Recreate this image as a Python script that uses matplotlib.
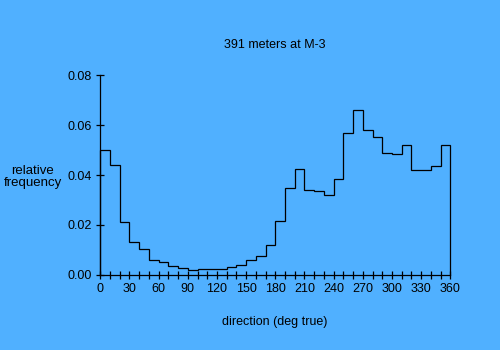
import numpy as np
import matplotlib.pyplot as plt

# relative frequency of current direction, 10 degree bins
bin_edges = np.arange(0, 370, 10)
rel_freq = [0.0500, 0.0439, 0.0211, 0.0131, 0.0103, 0.0059, 0.0052, 0.0035,
            0.0027, 0.0019, 0.0023, 0.0023, 0.0023, 0.0031, 0.0039, 0.0059,
            0.0075, 0.0119, 0.0215, 0.0347, 0.0423, 0.0339, 0.0335, 0.0319,
            0.0383, 0.0567, 0.0659, 0.0579, 0.0551, 0.0487, 0.0483, 0.0519,
            0.0419, 0.0419, 0.0435, 0.0519]

bg = '#50b0ff'
plt.rcParams['font.family'] = 'Liberation Sans'
plt.rcParams['font.size'] = 9

fig = plt.figure(figsize=(5, 3.5), dpi=100, facecolor=bg)
ax = fig.add_axes([0.2006, 0.2143, 0.70, 0.5714], facecolor=bg)

ax.stairs(rel_freq, bin_edges, color='black', linewidth=0.9, baseline=0,
          clip_on=False)

ax.set_xlim(0, 360)
ax.set_ylim(0, 0.08)
ax.set_xticks(np.arange(0, 361, 30))
ax.set_xticks(np.arange(0, 361, 10), minor=True)
ax.set_yticks(np.arange(0, 0.081, 0.02))
ax.yaxis.set_major_formatter(plt.FormatStrFormatter('%.2f'))
ax.tick_params(which='both', direction='inout', length=6, width=0.9, pad=3)

for side in ['top', 'right']:
    ax.spines[side].set_visible(False)
for side in ['left', 'bottom']:
    ax.spines[side].set_linewidth(0.9)

fig.text(0.55, 1 - 45 / 350, '391 meters at M-3', ha='center', va='center')
fig.text(0.55, 1 - 322 / 350, 'direction (deg true)', ha='center', va='center')
fig.text(0.066, 1 - 177 / 350, 'relative\nfrequency', ha='center', va='center',
         linespacing=0.95, fontsize=9.5)

fig.savefig('out.png', dpi=100, facecolor=bg)
